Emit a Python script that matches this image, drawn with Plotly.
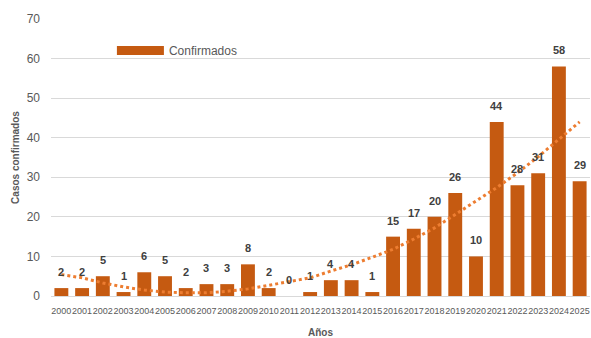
import plotly.graph_objects as go

years = [str(y) for y in range(2000, 2026)]
confirmados = [2, 2, 5, 1, 6, 5, 2, 3, 3, 8, 2, 0, 1, 4, 4, 1,
               15, 17, 20, 26, 10, 44, 28, 31, 58, 29]
# tendencia (línea punteada)
tendencia = [5.4, 4.6, 3.3, 2.3, 1.5, 1.0, 0.8, 0.8, 1.2, 1.8, 2.7, 3.7, 4.6,
             6.3, 7.9, 9.8, 11.8, 14.4, 17.2, 20.6, 23.9, 27.4, 31.1, 35.2, 39.6, 44.0]

bar_color = '#C55A11'
trend_color = '#ED7D31'
grey = '#595959'

fig = go.Figure()
fig.add_trace(go.Bar(x=years, y=confirmados, marker_color=bar_color,
                     marker_line_width=0, showlegend=False))
fig.add_trace(go.Scatter(x=years, y=tendencia, mode='lines',
                         line=dict(color=trend_color, width=3, dash='dot'),
                         showlegend=False))
# entrada de leyenda
fig.add_trace(go.Scatter(x=[years[0]], y=[None], mode='lines', name='Confirmados',
                         line=dict(color=bar_color, width=9)))

# etiquetas de datos (x como índice de categoría)
for i, v in enumerate(confirmados):
    fig.add_annotation(x=i, y=v, text=f'<b>{v}</b>', showarrow=False,
                       yshift=16, font=dict(size=11, color='#404040'))

fig.update_layout(
    width=591, height=338,
    margin=dict(l=51, r=1, t=19, b=42),
    plot_bgcolor='white', paper_bgcolor='white',
    bargap=0.33,
    font=dict(family='Liberation Sans Narrow, Liberation Sans, Arial', color=grey),
    legend=dict(x=0.113, y=0.886, xanchor='left', yanchor='middle',
                itemwidth=47, font=dict(size=12, color=grey),
                bgcolor='rgba(0,0,0,0)'),
)
fig.update_xaxes(type='category', range=[-0.5, len(years) - 0.5],
                 automargin=False,
                 tickfont=dict(size=9, color=grey), ticks='', tickangle=0,
                 ticklabelstandoff=6,
                 showline=True, linecolor='#D9D9D9', linewidth=1,
                 title=dict(text='<b>Años</b>', font=dict(size=10, color=grey),
                            standoff=14))
fig.update_yaxes(range=[0, 70], dtick=10, gridcolor='#D9D9D9', gridwidth=1,
                 automargin=False, ticklabelstandoff=10,
                 zeroline=False, tickfont=dict(size=12, color=grey),
                 title=dict(text='<b>Casos confirmados</b>',
                            font=dict(size=10, color=grey), standoff=5))

fig.write_html("out.html", config={'displayModeBar': False},
               post_script="document.body.style.margin='0';")
